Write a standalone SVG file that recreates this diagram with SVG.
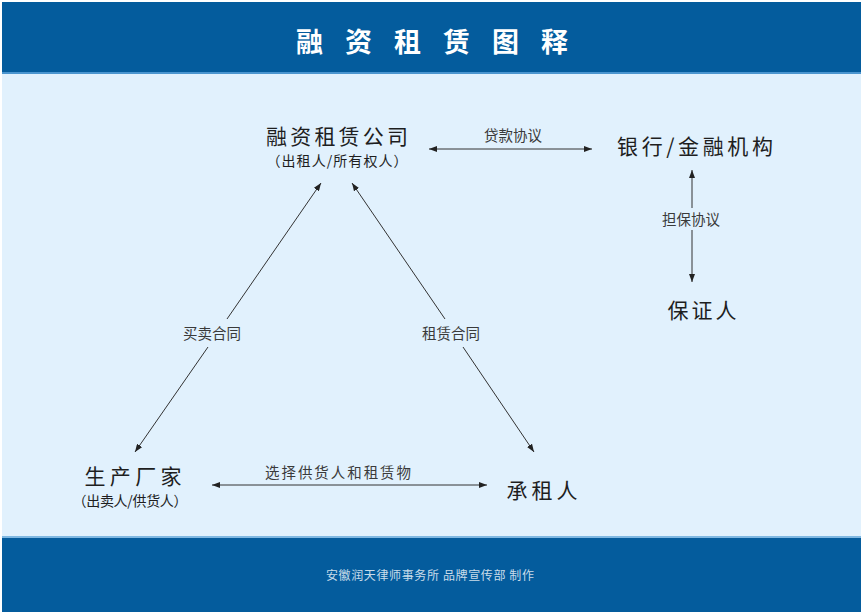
<svg xmlns="http://www.w3.org/2000/svg" width="863" height="612" viewBox="0 0 863 612">
<style>
.node{font-family:"Noto Sans CJK SC","Liberation Sans",sans-serif;fill:#1e1e1e;text-anchor:middle}
.big{font-size:21px}
.sub{font-size:14px}
.lbl{font-family:"Noto Sans CJK SC","Liberation Sans",sans-serif;font-size:14.5px;fill:#3a3a3a;text-anchor:middle}
.conn{stroke:#333;stroke-width:1;fill:none}
</style>
<defs>
<marker id="ah" viewBox="0 0 8 6" refX="8" refY="3" markerWidth="8" markerHeight="6" markerUnits="userSpaceOnUse" orient="auto-start-reverse">
<path d="M0,0 L8,3 L0,6 z" fill="#222"/>
</marker>
</defs>
<rect x="0" y="0" width="863" height="612" fill="#ffffff"/>
<rect x="2" y="2" width="859" height="71" fill="#045C9D"/>
<rect x="2" y="72" width="859" height="2" fill="#4A95CF"/>
<rect x="2" y="74" width="859" height="463" fill="#E1F1FD"/>
<rect x="2" y="536" width="859" height="2" fill="#7FB8E2"/>
<rect x="2" y="538" width="859" height="74" fill="#045C9D"/>
<text x="296 345 394 443 492 541" y="52" font-family="Noto Sans CJK SC,sans-serif" font-size="27" font-weight="bold" fill="#ffffff">融资租赁图释</text>
<text x="430" y="580" font-family="Noto Sans CJK SC,sans-serif" font-size="12" fill="#C9DCEA" text-anchor="middle" textLength="208">安徽润天律师事务所 品牌宣传部 制作</text>
<g id="connectors">
<line class="conn" x1="429" y1="149" x2="592" y2="149" marker-start="url(#ah)" marker-end="url(#ah)"/>
<line class="conn" x1="692" y1="208" x2="692" y2="170" marker-end="url(#ah)"/>
<line class="conn" x1="692" y1="230" x2="692" y2="282" marker-end="url(#ah)"/>
<line class="conn" x1="227" y1="319" x2="321" y2="183" marker-end="url(#ah)"/>
<line class="conn" x1="208" y1="347" x2="135" y2="452" marker-end="url(#ah)"/>
<line class="conn" x1="445" y1="319" x2="352" y2="183" marker-end="url(#ah)"/>
<line class="conn" x1="463" y1="347" x2="534" y2="452" marker-end="url(#ah)"/>
<line class="conn" x1="212" y1="485" x2="487" y2="485" marker-start="url(#ah)" marker-end="url(#ah)"/>
<text class="lbl" x="513" y="141">贷款协议</text>
<text class="lbl" x="691" y="225">担保协议</text>
<text class="lbl" x="212" y="339">买卖合同</text>
<text class="lbl" x="451" y="339">租赁合同</text>
<text class="lbl" x="338" y="478" textLength="146">选择供货人和租赁物</text>
</g>
<g id="lessor">
<text class="node big" x="337" y="144" textLength="142">融资租赁公司</text>
<text class="node sub" x="337" y="166" textLength="141">（出租人/所有权人）</text>
</g>
<g id="bank">
<text class="node big" x="695" y="154" textLength="156">银行/金融机构</text>
</g>
<g id="guarantor">
<text class="node big" x="702" y="318" textLength="69">保证人</text>
</g>
<g id="manufacturer">
<text class="node big" x="133" y="484" textLength="97">生产厂家</text>
<text class="node sub" x="130" y="506" textLength="115">（出卖人/供货人）</text>
</g>
<g id="lessee">
<text class="node big" x="542" y="498" textLength="71">承租人</text>
</g>
</svg>
